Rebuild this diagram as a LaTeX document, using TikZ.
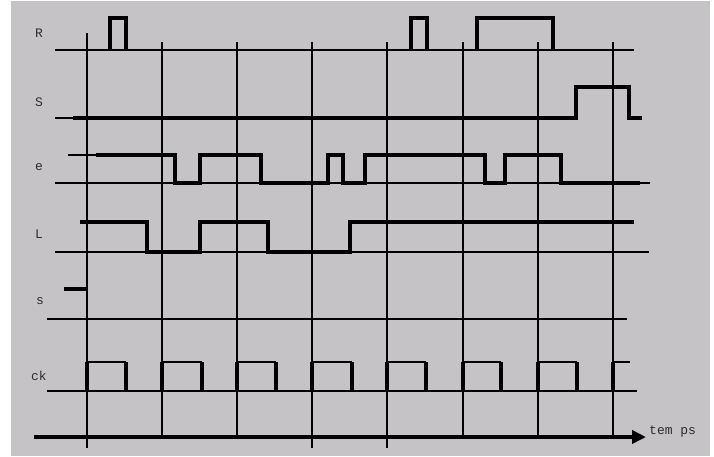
\documentclass[tikz,border=0pt]{standalone}
\usepackage{fontspec}
\setmonofont{Liberation Mono}
\usetikzlibrary{arrows.meta}
\definecolor{chronoBg}{HTML}{C5C3C6}
\definecolor{chronoInk}{HTML}{000000}
\definecolor{labelInk}{HTML}{2E2E2E}
\tikzset{
  gridThin/.style={chronoInk, line width=1.5pt},
  gridThick/.style={chronoInk, line width=2.6pt},
  baseLine/.style={chronoInk, line width=2pt},
  sigLine/.style={chronoInk, line width=3.6pt, line join=miter},
  clkLine/.style={chronoInk, line width=2.2pt},
  sigLabel/.style={font=\ttfamily\fontsize{13}{13}\selectfont, text=labelInk,
                   inner sep=0pt, anchor=center},
  axisArrow/.style={-{Triangle[length=14pt, width=13pt]}, chronoInk, line width=4pt},
}

\begin{document}
\begin{tikzpicture}[x=1pt, y=-1pt]
    \useasboundingbox (0,0) rectangle (714,456);
    \fill[white] (0,0) rectangle (714,456);
    \fill[chronoBg] (11,1) rectangle (710,456);

    % fronts d'horloge
    \foreach \gx/\gs/\gtop/\gbot in {87/gridThin/33/448, 162/gridThick/42/439,
        237/gridThin/42/439, 312/gridThick/42/448, 387/gridThick/42/448,
        463/gridThin/42/439, 538/gridThick/42/439, 613/gridThin/42/439}
      \draw[\gs] (\gx,\gtop) -- (\gx,\gbot);

    % R
    \node[sigLabel] (labR) at (39,33) {R};
    \draw[baseLine] (55,50) -- (634,50);
    \foreach \ra/\rb in {110/126, 411/427, 477/553}
      \draw[sigLine] (\ra,50) |- (\rb,18) -- (\rb,50);

    % S
    \node[sigLabel] (labS) at (39,102) {S};
    \draw[baseLine] (55,118) -- (73,118);
    \draw[sigLine] (73,118) -- (576,118) |- (629,87) |- (642,118);

    % e
    \node[sigLabel] (labE) at (39,167) {e};
    \draw[baseLine] (55,183) -- (650,183);
    \draw[baseLine] (68,155) -- (96,155);
    \draw[sigLine] (96,155) -| (175,183) -| (200,155) -| (261,183)
      -| (328,155) -| (343,183) -| (365,155) -| (485,183) -| (505,155)
      -| (561,183) -- (640,183);

    % L
    \node[sigLabel] (labL) at (39,234) {L};
    \draw[baseLine] (55,252) -- (649,252);
    \draw[sigLine] (80,222) -| (147,252) -| (200,222) -| (268,252)
      -| (350,222) -- (634,222);

    % s
    \node[sigLabel] (labs) at (40,301) {s};
    \draw[sigLine] (64,289) -- (87,289);
    \draw[baseLine] (47,319) -- (627,319);

    % ck
    \node[sigLabel] (labCk) at (39,376) {ck};
    \draw[baseLine] (47,391) -- (637,391);
    \foreach \ca/\cb in {87/126, 162/202, 237/276, 312/352, 387/426,
        463/501, 538/577}{
      \draw[clkLine] (\ca,362) -- (\cb,362);
      \draw[sigLine] (\ca,391) -- (\ca,362) (\cb,362) -- (\cb,391);
    }
    \draw[clkLine] (613,362) -- (630,362);
    \draw[sigLine] (613,391) -- (613,362);

    % temps
    \coordinate (axStart) at (34,437);
    \coordinate (axEnd) at (646,437);
    \draw[axisArrow] (axStart) -- (axEnd);
    \node[sigLabel, anchor=west] (labT) at (649,432) {tem ps};
  \end{tikzpicture}
\end{document}
